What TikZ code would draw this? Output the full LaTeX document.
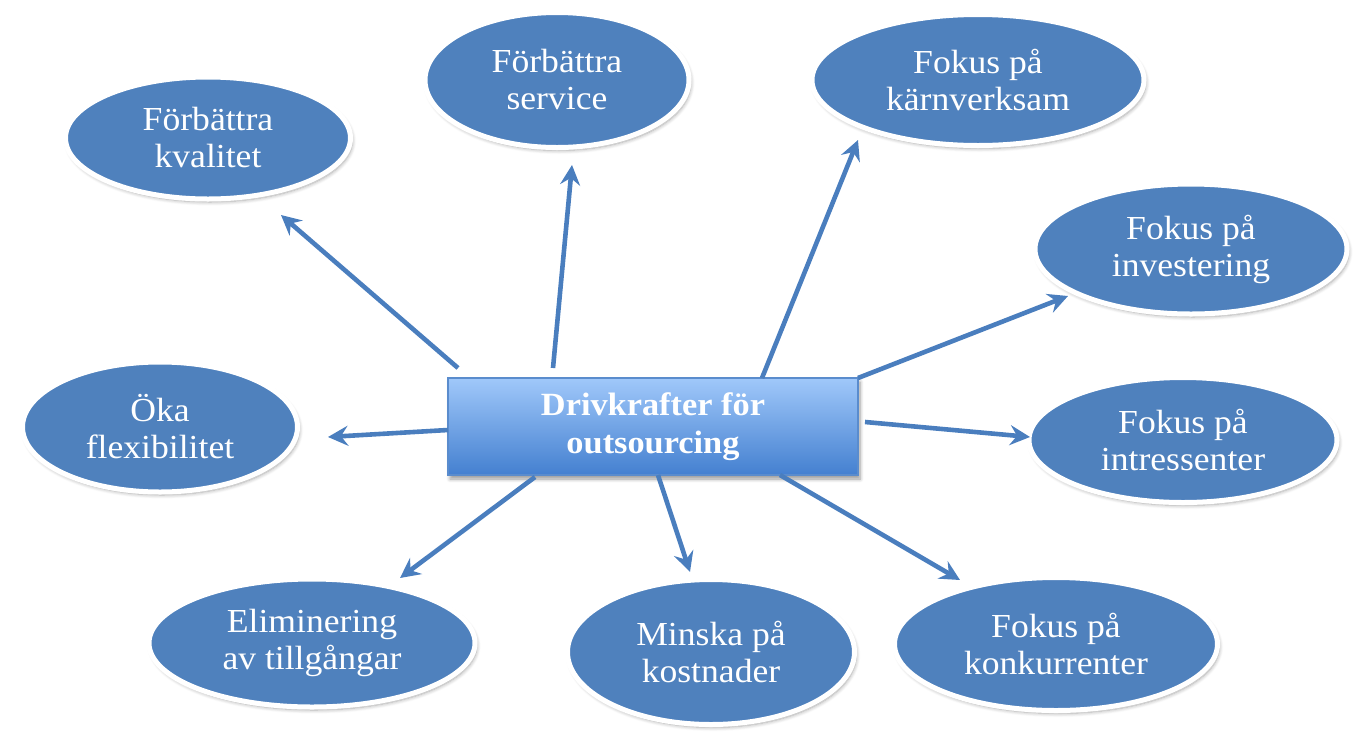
\documentclass[tikz,border=0pt]{standalone}
\usepackage{fontspec}
\setmainfont{Liberation Serif}[FakeStretch=1.06]
\usetikzlibrary{shapes.geometric,arrows.meta,shadows.blur}
\definecolor{ellblue}{RGB}{79,129,189}
\definecolor{arrblue}{RGB}{74,126,190}
\definecolor{toplight}{RGB}{160,200,250}
\definecolor{botdark}{RGB}{68,128,208}
\definecolor{rectedge}{RGB}{90,140,205}
\tikzset{
  bubble/.style={ellipse, fill=ellblue, draw=white, line width=2.5pt,
    text=white, align=center, inner sep=0pt,
    font=\fontsize{16.8}{18.5}\selectfont,
    blur shadow={shadow xshift=1pt, shadow yshift=-1.5pt, shadow blur steps=6, shadow opacity=35}},
  hub/.style={rectangle, top color=toplight, bottom color=botdark, draw=rectedge, line width=0.6pt,
    text=white, align=center, inner sep=0pt,
    font=\bfseries\fontsize{16.2}{19}\selectfont,
    blur shadow={shadow xshift=1pt, shadow yshift=-2pt, shadow blur steps=6, shadow opacity=40}},
  conn/.style={draw=arrblue, line width=2.3pt, -{Stealth[length=10pt,width=10pt,inset=3.5pt]}}
}
\begin{document}
\begin{tikzpicture}[x=0.5pt,y=-0.5pt]
\useasboundingbox (0,0) rectangle (1361,740);
% bubbles
\node[bubble, minimum width=142.5pt, minimum height=61pt] (kval) at (208,138) {Förbättra\\kvalitet};
\node[bubble, minimum width=132pt, minimum height=67.5pt] (serv) at (557,80) {Förbättra\\service};
\node[bubble, minimum width=166pt, minimum height=65.5pt] (karn) at (978,80) {Fokus på\\kärnverksam};
\node[bubble, minimum width=156pt, minimum height=65pt] (inv) at (1191,249) {Fokus på\\investering};
\node[bubble, minimum width=154pt, minimum height=62.5pt] (intr) at (1183,440) {Fokus på\\intressenter};
\node[bubble, minimum width=143.5pt, minimum height=72.5pt] (kost) at (711,652) {Minska på\\kostnader};
\node[bubble, minimum width=161.5pt, minimum height=66.5pt] (konk) at (1056,644) {Fokus på\\konkurrenter};
\node[bubble, minimum width=163pt, minimum height=64pt] (till) at (312,643) {Eliminering\\av tillgångar};
\node[bubble, minimum width=137.5pt, minimum height=65pt] (flex) at (160,427) {Öka\\flexibilitet};
% hub
\node[hub, minimum width=205pt, minimum height=48.5pt] (hub) at (653,426.5) {Drivkrafter för\\outsourcing};
% connector endpoints
\coordinate (s1) at (458,368); \coordinate (t1) at (281,215);
\coordinate (s2) at (553,368); \coordinate (t2) at (572,165);
\coordinate (s3) at (762,378); \coordinate (t3) at (858,140);
\coordinate (s4) at (858,378); \coordinate (t4) at (1068,296);
\coordinate (s5) at (865,422); \coordinate (t5) at (1030,437);
\coordinate (s6) at (780,475); \coordinate (t6) at (960,580);
\coordinate (s7) at (658,475); \coordinate (t7) at (690,572);
\coordinate (s8) at (535,477); \coordinate (t8) at (400,578);
\coordinate (s9) at (448,430); \coordinate (t9) at (328,437);
\foreach \i in {1,...,9} { \draw[conn] (s\i) -- (t\i); }
\end{tikzpicture}
\end{document}
